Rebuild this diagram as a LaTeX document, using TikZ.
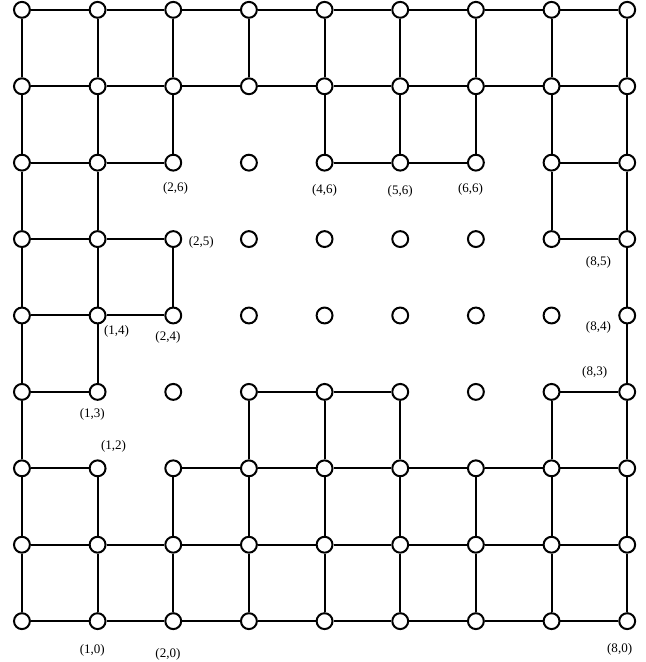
\documentclass[tikz,border=0pt]{standalone}
\usepackage{fontspec}
\setmainfont{Liberation Serif}
\usetikzlibrary{positioning,backgrounds}

\begin{document}
\begin{tikzpicture}[
        x=1cm, y=1.01cm,
        dot/.style={circle, draw, line width=0.75pt, fill=white,
                    minimum size=2.1mm, inner sep=0pt},
        edge/.style={line width=0.75pt},
        lbl/.style={font=\fontsize{4.9}{6}\selectfont, inner sep=0pt},
    ]
        \useasboundingbox (-0.29cm,-0.54cm) rectangle (8.24cm,8.21cm);

        % grid points
        \foreach \x in {0,...,8}
            \foreach \y in {0,...,8}
                \node[dot] (n-\x-\y) at (\x,\y) {};

        % horizontal links (left end)
        \begin{scope}[on background layer]
            \foreach \x/\y in {0/8,1/8,2/8,3/8,4/8,5/8,6/8,7/8,
                               0/7,1/7,2/7,3/7,4/7,5/7,6/7,7/7,
                               0/6,1/6,4/6,5/6,7/6,
                               0/5,1/5,7/5,
                               0/4,1/4,
                               0/3,3/3,4/3,7/3,
                               0/2,2/2,3/2,4/2,5/2,6/2,7/2,
                               0/1,1/1,2/1,3/1,4/1,5/1,6/1,7/1,
                               0/0,1/0,2/0,3/0,4/0,5/0,6/0,7/0}
            {
                \pgfmathtruncatemacro{\xn}{\x+1}
                \draw[edge] (n-\x-\y) -- (n-\xn-\y);
            }
            % vertical links (lower end)
            \foreach \x/\y in {0/0,0/1,0/2,0/3,0/4,0/5,0/6,0/7,
                               1/0,1/1,1/3,1/4,1/5,1/6,1/7,
                               2/0,2/1,2/4,2/6,2/7,
                               3/0,3/1,3/2,3/7,
                               4/0,4/1,4/2,4/6,4/7,
                               5/0,5/1,5/2,5/6,5/7,
                               6/0,6/1,6/6,6/7,
                               7/0,7/1,7/2,7/5,7/6,7/7,
                               8/0,8/1,8/2,8/3,8/4,8/5,8/6,8/7}
            {
                \pgfmathtruncatemacro{\yn}{\y+1}
                \draw[edge] (n-\x-\y) -- (n-\x-\yn);
            }
        \end{scope}

        % coordinates
        \node[lbl, below=1.4mm of n-2-6, xshift=0.3mm] (l-2-6) {(2,6)};
        \node[lbl, below=1.65mm of n-4-6] (l-4-6) {(4,6)};
        \node[lbl, below=1.8mm of n-5-6] (l-5-6) {(5,6)};
        \node[lbl, below=1.5mm of n-6-6, xshift=-0.7mm] (l-6-6) {(6,6)};
        \node[lbl, right=0.8mm of n-2-5, yshift=-0.5mm] (l-2-5) {(2,5)};
        \node[lbl, below=1.0mm of n-8-5, xshift=-3.8mm] (l-8-5) {(8,5)};
        \node[lbl, below=0mm of n-1-4, xshift=2.5mm] (l-1-4) {(1,4)};
        \node[lbl, below=0.9mm of n-2-4, xshift=-0.7mm] (l-2-4) {(2,4)};
        \node[lbl, left=0.9mm of n-8-4, yshift=-1.6mm] (l-8-4) {(8,4)};
        \node[lbl, above=0.6mm of n-8-3, xshift=-4.3mm] (l-8-3) {(8,3)};
        \node[lbl, below=1.0mm of n-1-3, xshift=-0.7mm] (l-1-3) {(1,3)};
        \node[lbl, above=0.9mm of n-1-2, xshift=2.1mm] (l-1-2) {(1,2)};
        \node[lbl, below=1.8mm of n-1-0, xshift=-0.7mm] (l-1-0) {(1,0)};
        \node[lbl, below=2.3mm of n-2-0, xshift=-0.7mm] (l-2-0) {(2,0)};
        \node[lbl, below=1.65mm of n-8-0, xshift=-1.0mm] (l-8-0) {(8,0)};
    \end{tikzpicture}
\end{document}
